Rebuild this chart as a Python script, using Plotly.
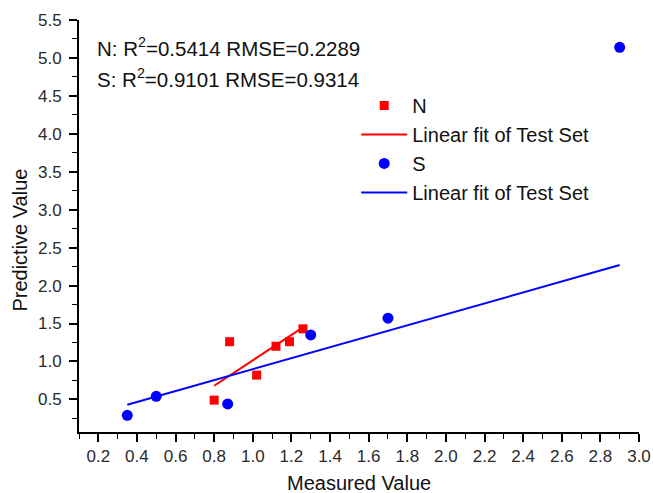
import plotly.graph_objects as go

# Data
n_measured = [0.80, 0.88, 1.02, 1.12, 1.19, 1.26]
n_predicted = [0.49, 1.26, 0.82, 1.20, 1.26, 1.43]
n_fit_x = [0.80, 1.26]
n_fit_y = [0.68, 1.45]

s_measured = [0.35, 0.50, 0.87, 1.30, 1.70, 2.90]
s_predicted = [0.29, 0.54, 0.44, 1.35, 1.57, 5.14]
s_fit_x = [0.35, 2.90]
s_fit_y = [0.43, 2.27]

stats_text = [
    "N: R<sup>2</sup>=0.5414 RMSE=0.2289",
    "S: R<sup>2</sup>=0.9101 RMSE=0.9314",
]

FONT = "Liberation Sans, Arial, sans-serif"
RED = "#FF0000"
BLUE = "#0000FF"

fig = go.Figure()
fig.add_trace(go.Scatter(x=n_measured, y=n_predicted, mode="markers", name="N",
                         marker=dict(symbol="square", size=9, color=RED)))
fig.add_trace(go.Scatter(x=n_fit_x, y=n_fit_y, mode="lines", name="Linear fit of Test Set",
                         line=dict(color=RED, width=2)))
fig.add_trace(go.Scatter(x=s_measured, y=s_predicted, mode="markers", name="S",
                         marker=dict(symbol="circle", size=11, color=BLUE)))
fig.add_trace(go.Scatter(x=s_fit_x, y=s_fit_y, mode="lines", name="Linear fit of Test Set",
                         line=dict(color=BLUE, width=2)))

axis_common = dict(
    showline=True, linecolor="black", linewidth=2,
    ticks="outside", ticklen=8, tickwidth=1.6, tickcolor="black",
    showgrid=False, zeroline=False, mirror=False, automargin=False,
    tickfont=dict(family=FONT, size=17, color="#2a2a2a"),
    tickformat=".1f",
)

fig.update_xaxes(range=[0.1, 3.0], tick0=0.2, dtick=0.2,
                 minor=dict(dtick=0.1, tick0=0.1, ticks="outside", ticklen=5,
                            tickwidth=1.4, tickcolor="black"),
                 **axis_common)
fig.update_yaxes(range=[0.07, 5.5], tick0=0.5, dtick=0.5, ticklabelstandoff=4,
                 minor=dict(dtick=0.25, tick0=0.25, ticks="outside", ticklen=5,
                            tickwidth=1.4, tickcolor="black"),
                 **axis_common)

annotations = []
for i, t in enumerate(stats_text):
    annotations.append(dict(text=t, xref="paper", yref="paper",
                            x=0.0285, y=0.935 - i * 0.075,
                            xanchor="left", yanchor="middle", showarrow=False,
                            font=dict(family=FONT, size=20.5, color="#111111")))
annotations.append(dict(text="Measured Value", xref="paper", yref="paper",
                        x=0.5, y=-0.124, xanchor="center", yanchor="middle",
                        showarrow=False, font=dict(family=FONT, size=20, color="#111111")))
annotations.append(dict(text="Predictive Value", xref="paper", yref="paper",
                        x=-0.105, y=0.465, xanchor="center", yanchor="middle",
                        textangle=-90, showarrow=False,
                        font=dict(family=FONT, size=20, color="#111111")))

fig.update_layout(
    width=653, height=493, autosize=False,
    margin=dict(l=79, r=14, t=20, b=61, pad=0, autoexpand=False),
    paper_bgcolor="white", plot_bgcolor="white",
    showlegend=True,
    legend=dict(x=0.495, y=0.84, xanchor="left", yanchor="top",
                bgcolor="rgba(0,0,0,0)", borderwidth=0,
                font=dict(family=FONT, size=20, color="#111111"),
                itemwidth=46, tracegroupgap=0),
    annotations=annotations,
)

fig.write_html("out.html", config={"displayModeBar": False},
               post_script="document.body.style.margin='0';document.body.style.padding='0';")
